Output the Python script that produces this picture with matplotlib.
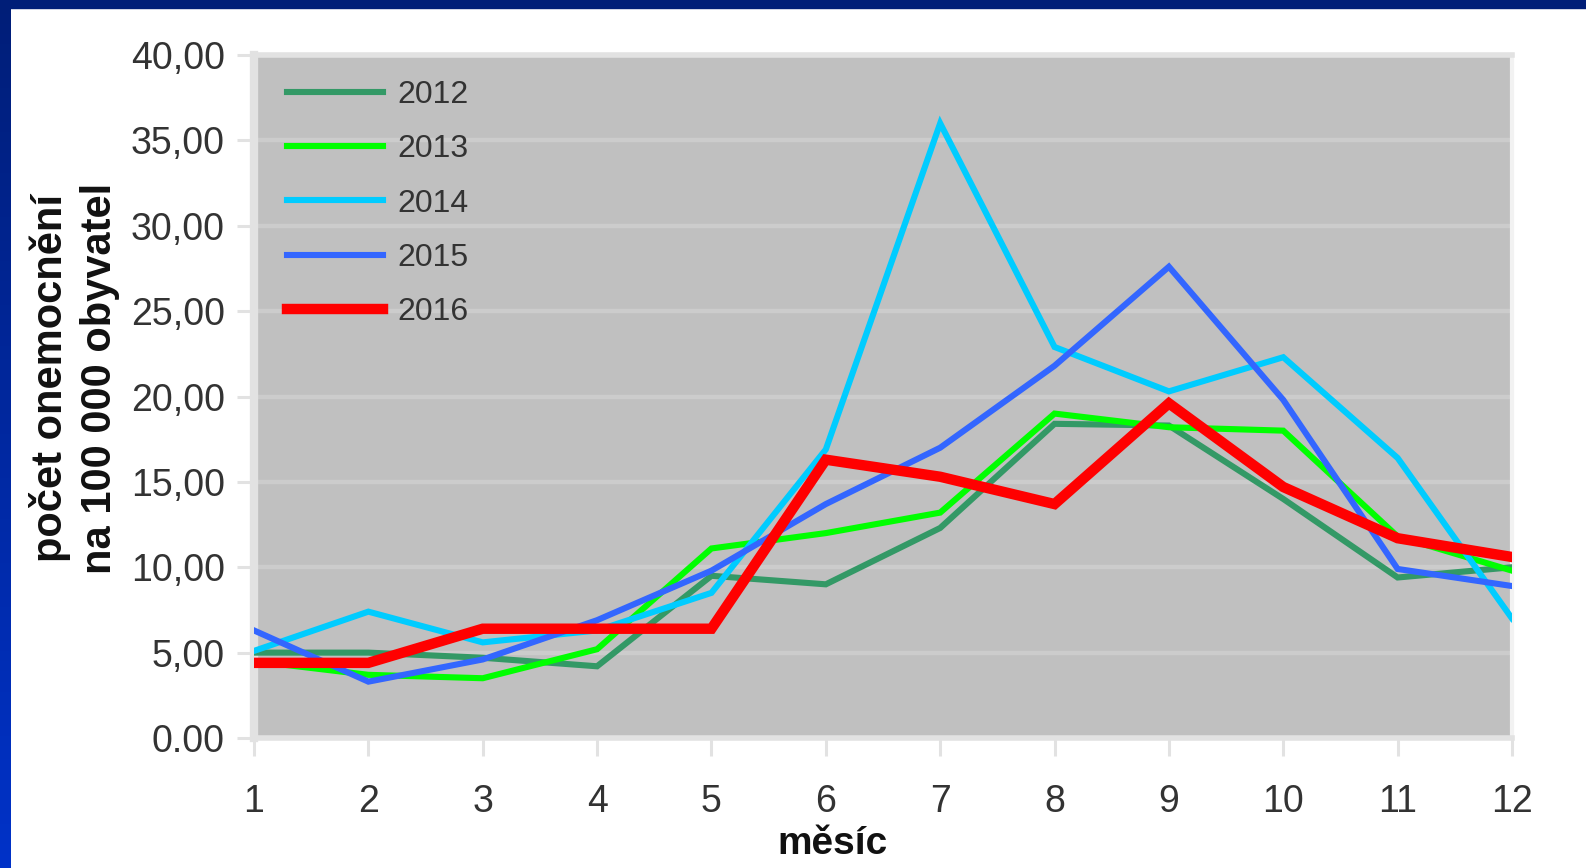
import numpy as np
import matplotlib
matplotlib.use("Agg")
import matplotlib.pyplot as plt
from matplotlib.colors import LinearSegmentedColormap
from matplotlib.patches import Rectangle

plt.rcParams['font.family'] = ['Liberation Sans', 'DejaVu Sans']

# Data
months = [1, 2, 3, 4, 5, 6, 7, 8, 9, 10, 11, 12]
y2012 = [5.0, 5.0, 4.7, 4.2, 9.5, 9.0, 12.3, 18.4, 18.3, 14.0, 9.4, 10.0]
y2013 = [4.5, 3.7, 3.5, 5.2, 11.1, 12.0, 13.2, 19.0, 18.2, 18.0, 11.8, 9.8]
y2014 = [5.1, 7.4, 5.6, 6.3, 8.5, 16.9, 36.0, 22.9, 20.3, 22.3, 16.4, 7.0]
y2015 = [6.3, 3.3, 4.6, 6.9, 9.8, 13.7, 17.0, 21.8, 27.6, 19.8, 9.9, 8.9]
y2016 = [4.4, 4.4, 6.4, 6.4, 6.4, 16.3, 15.3, 13.7, 19.6, 14.7, 11.7, 10.6]
years = ['2012', '2013', '2014', '2015', '2016']
yticks = [0, 5, 10, 15, 20, 25, 30, 35, 40]
ytick_labels = ['0.00', '5,00', '10,00', '15,00', '20,00', '25,00', '30,00', '35,00', '40,00']

series = [y2012, y2013, y2014, y2015, y2016]
colors = ['#339966', '#00FF00', '#00CCFF', '#3366FF', '#FF0000']
widths = [4.4, 4.4, 4.4, 4.4, 7.5]

W, H = 1586, 868
fig = plt.figure(figsize=(W / 100, H / 100), dpi=100)
fig.patch.set_facecolor('white')

# blue frame (top band + gradient left band)
fig.add_artist(Rectangle((0, 1 - 8 / H), 1, 8 / H, transform=fig.transFigure,
                         color='#001E78', zorder=0))
strip = fig.add_axes([0, 0, 11 / W, 1])
cmap = LinearSegmentedColormap.from_list('frame', ['#001E78', '#0032C8'])
strip.imshow(np.linspace(0, 1, 256).reshape(-1, 1), aspect='auto', cmap=cmap)
strip.axis('off')

# plot area in pixels: x 254..1512, y 55..738
ax = fig.add_axes([254 / W, 1 - 738 / H, (1512 - 254) / W, (738 - 55) / H])
ax.set_facecolor('#C0C0C0')

for vals, year, c, lw in zip(series, years, colors, widths):
    ax.plot(months, vals, color=c, linewidth=lw, label=year,
            solid_joinstyle='miter', zorder=3)

ax.set_xlim(1, 12)
ax.set_ylim(0, 40)
ax.set_xticks(months)
ax.set_xticklabels([str(m) for m in months])
ax.set_yticks(yticks)
ax.set_yticklabels(ytick_labels)

ax.grid(axis='y', color='#CCCCCC', linewidth=3.2, zorder=1)
ax.set_axisbelow(True)

for side in ['left', 'top', 'bottom']:
    ax.spines[side].set_color('#E2E2E2')
ax.spines['left'].set_linewidth(6)
ax.spines['top'].set_linewidth(4)
ax.spines['bottom'].set_linewidth(4)
ax.spines['right'].set_color('#F2F2F2')
ax.spines['right'].set_linewidth(3)

ax.tick_params(axis='y', length=12, width=2.2, color='#E2E2E2', pad=9,
               labelsize=27, labelcolor='#333333')
ax.tick_params(axis='x', length=13, width=2.2, color='#E2E2E2', pad=20,
               labelsize=27, labelcolor='#333333')

ax.set_xlabel('měsíc', fontsize=28, fontweight='bold', color='#111111')
ax.xaxis.set_label_coords((833 - 254) / 1258, -(826 - 738) / 683)
ax.set_ylabel('počet onemocnění\nna 100 000 obyvatel', fontsize=30,
              fontweight='bold', color='#111111', linespacing=1.3)
ax.yaxis.set_label_coords(-(254 - 120) / 1258, (738 - 378) / 683)

leg = ax.legend(loc='upper left', bbox_to_anchor=((287 - 254) / 1258, (738 - 80) / 683),
                frameon=False, fontsize=23, handlelength=3.0, handletextpad=0.45,
                labelspacing=0.76, borderpad=0, borderaxespad=0)
for t in leg.get_texts():
    t.set_color('#333333')

fig.savefig('out.png', dpi=100)
